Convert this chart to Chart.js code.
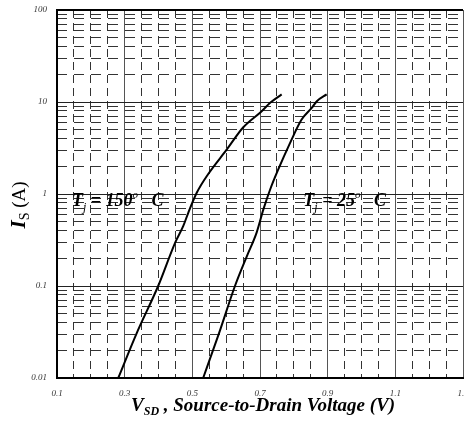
<!DOCTYPE html>
<html>
<head>
<meta charset="utf-8">
<script src="https://cdn.jsdelivr.net/npm/chart.js@4.4.0/dist/chart.umd.min.js"></script>
<style>
  html, body { margin: 0; padding: 0; background: #fff; }
  #wrap { width: 464px; height: 445px; }
</style>
</head>
<body>
<div id="wrap"><canvas id="diodeChart" width="464" height="445"></canvas></div>
<script>
// source current vs. source-drain voltage
var vsd150 = [0.281, 0.336, 0.399, 0.449, 0.473, 0.488, 0.513, 0.546, 0.602, 0.650, 0.705, 0.730, 0.764];
var is150  = [0.01, 0.031, 0.1, 0.295, 0.447, 0.625, 1.03, 1.63, 3.05, 5.28, 7.94, 9.8, 12.1];
var vsd25  = [0.532, 0.578, 0.626, 0.661, 0.69, 0.710, 0.73, 0.754, 0.789, 0.823, 0.853, 0.868, 0.897];
var is25   = [0.01, 0.03, 0.1, 0.21, 0.38, 0.68, 1.12, 1.85, 3.6, 6.45, 8.65, 10.2, 12.1];

var xTickLabels = ['0.1', '0.3', '0.5', '0.7', '0.9', '1.1', '1.3'];
var yTickLabels = ['0.01', '0.1', '1', '10', '100'];
var yMinorSteps = [2, 3, 4, 5, 6, 7, 8, 9];

var serif = "'Liberation Serif', 'DejaVu Serif', serif";
var tickFont = { family: serif, size: 9, style: 'italic' };

function toPoints(xs, ys) {
  return xs.map(function (x, i) { return { x: x, y: ys[i] }; });
}

var yMajorValues = yTickLabels.map(parseFloat);
var yMinorValues = [];
yMajorValues.slice(0, -1).forEach(function (d) {
  yMinorSteps.forEach(function (m) { yMinorValues.push(+(d * m).toPrecision(3)); });
});

function drawRich(ctx, parts, x, y, align) {
  var w = 0;
  parts.forEach(function (p) { ctx.font = p.font; w += ctx.measureText(p.t).width; });
  var cx = align === 'center' ? x - w / 2 : x;
  parts.forEach(function (p) {
    ctx.font = p.font;
    ctx.fillText(p.t, cx, y + (p.dy || 0));
    cx += ctx.measureText(p.t).width;
  });
}

var textPlugin = {
  id: 'richText',
  afterDraw: function (chart) {
    var ctx = chart.ctx;
    var xs = chart.scales.x, ys = chart.scales.y;
    ctx.save();
    ctx.fillStyle = '#000';
    ctx.textBaseline = 'alphabetic';

    // curve labels
    var bi = 'bold italic 18px ' + serif;
    var sub = 'italic 12px ' + serif;
    var sup = 'italic 11px ' + serif;
    drawRich(ctx, [
      { t: 'T', font: bi }, { t: 'j', font: sub, dy: 5 }, { t: ' = 150', font: bi },
      { t: 'o', font: sup, dy: -8 }, { t: '   C', font: bi }
    ], xs.getPixelForValue(0.144), ys.getPixelForValue(0.74), 'left');
    drawRich(ctx, [
      { t: 'T', font: bi }, { t: 'j', font: sub, dy: 5 }, { t: ' = 25', font: bi },
      { t: 'o', font: sup, dy: -8 }, { t: '   C', font: bi }
    ], xs.getPixelForValue(0.828), ys.getPixelForValue(0.74), 'left');

    // x axis title
    drawRich(ctx, [
      { t: 'V', font: 'bold italic 19px ' + serif },
      { t: 'SD', font: 'bold italic 12px ' + serif, dy: 4 },
      { t: ' , Source-to-Drain Voltage (V)', font: 'bold italic 19px ' + serif }
    ], 263, 411, 'center');

    // y axis title
    ctx.translate(25, 205);
    ctx.rotate(-Math.PI / 2);
    drawRich(ctx, [
      { t: 'I', font: 'bold italic 21px ' + serif },
      { t: 'S', font: '14px ' + serif, dy: 4 },
      { t: ' (A)', font: '19px ' + serif }
    ], 0, 0, 'center');
    ctx.restore();
  }
};

var ctx = document.getElementById('diodeChart').getContext('2d');
var diodeChart = new Chart(ctx, {
  type: 'line',
  data: {
    datasets: [{
      label: 'Tj = 150 C',
      data: toPoints(vsd150, is150),
      borderColor: '#000',
      borderWidth: 2,
      pointRadius: 0,
      cubicInterpolationMode: 'monotone'
    }, {
      label: 'Tj = 25 C',
      data: toPoints(vsd25, is25),
      borderColor: '#000',
      borderWidth: 2,
      pointRadius: 0,
      cubicInterpolationMode: 'monotone'
    }]
  },
  options: {
    responsive: false,
    animation: false,
    layout: { padding: { top: 10, left: 0, right: 1, bottom: 0 } },
    plugins: { legend: { display: false }, tooltip: { enabled: false } },
    scales: {
      x: {
        type: 'linear',
        position: 'bottom',
        min: 0.1,
        max: 1.3,
        afterBuildTicks: function (s) {
          s.ticks = xTickLabels.map(function (t) { return { value: parseFloat(t) }; });
        },
        afterFit: function (s) { s.height = 67; s.paddingLeft = 0; s.paddingRight = 0; },
        ticks: {
          autoSkip: false,
          maxRotation: 0,
          padding: 10,
          color: '#333',
          font: tickFont,
          callback: function (v, i) { return xTickLabels[i]; }
        },
        grid: {
          drawTicks: false,
          color: '#555',
          lineWidth: 1
        },
        border: { display: true, color: '#000', width: 2 }
      },
      xMinor: {
        type: 'linear',
        position: 'top',
        min: 0.1,
        max: 1.3,
        afterFit: function (s) { s.height = 0; s.paddingLeft = 0; s.paddingRight = 0; },
        ticks: { display: false, stepSize: 0.05, autoSkip: false },
        grid: {
          drawTicks: false,
          color: function (c) { return c.index % 4 === 0 ? 'rgba(0,0,0,0)' : '#333'; },
          lineWidth: 1
        },
        border: { display: false, dash: [8, 5] }
      },
      y: {
        type: 'logarithmic',
        position: 'left',
        min: 0.01,
        max: 100,
        afterBuildTicks: function (s) {
          s.ticks = yMajorValues.map(function (v) { return { value: v }; });
        },
        afterFit: function (s) { s.width = 57; s.paddingTop = 0; s.paddingBottom = 0; },
        ticks: {
          autoSkip: false,
          padding: 10,
          color: '#333',
          font: tickFont,
          callback: function (v, i) { return yTickLabels[i]; }
        },
        grid: {
          drawTicks: false,
          color: function (c) { return c.index === yTickLabels.length - 1 ? '#000' : '#222'; },
          lineWidth: function (c) { return c.index === yTickLabels.length - 1 ? 2 : 1; }
        },
        border: { display: true, color: '#000', width: 2 }
      },
      yMinor: {
        type: 'logarithmic',
        position: 'left',
        min: 0.01,
        max: 100,
        afterBuildTicks: function (s) {
          s.ticks = yMinorValues.map(function (v) { return { value: v }; });
        },
        afterFit: function (s) { s.width = 0; s.paddingTop = 0; s.paddingBottom = 0; },
        ticks: { display: false, autoSkip: false },
        grid: { drawTicks: false, color: '#333', lineWidth: 1 },
        border: { display: false, dash: [10, 7] }
      }
    }
  },
  plugins: [textPlugin]
});
</script>
</body>
</html>
